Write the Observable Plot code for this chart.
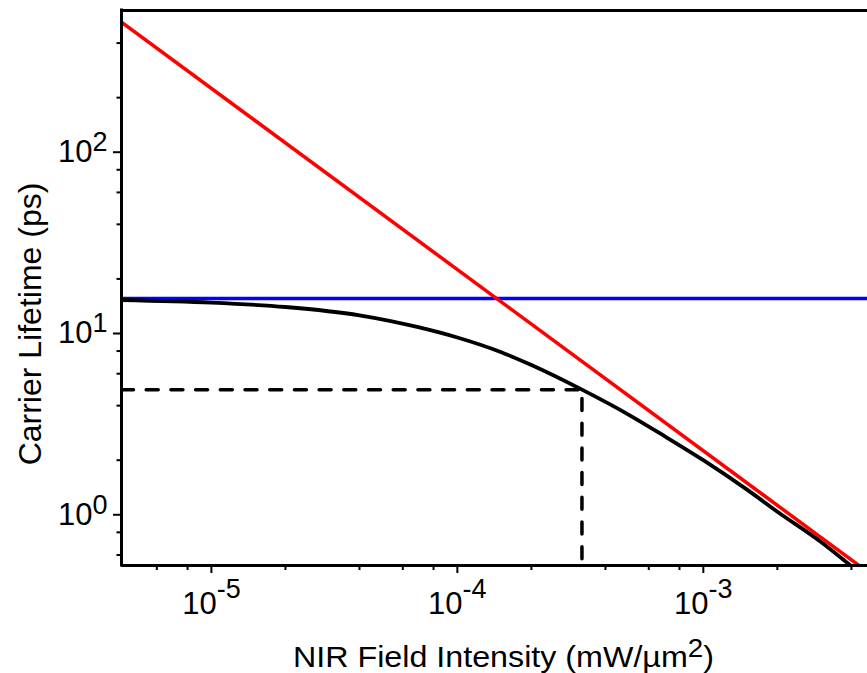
<!DOCTYPE html>
<html><head><meta charset="utf-8">
<script src="https://cdn.jsdelivr.net/npm/d3@7"></script>
<script src="https://cdn.jsdelivr.net/npm/@observablehq/plot@0.6"></script>
<style>body{margin:0;background:#fff} #chart{width:867px;height:673px}</style>
</head><body><div id="chart"></div>
<script>
// ---- data ----
const xDomain = [4.31e-6, 4.65e-3];
const yDomain = [0.525, 605];
const xMajor = [1e-5, 1e-4, 1e-3];
const xMinor = [6e-6, 8e-6, 2e-5, 4e-5, 6e-5, 8e-5, 2e-4, 4e-4, 6e-4, 8e-4, 2e-3, 4e-3];
const yMajor = [1, 10, 100];
const yMinor = [0.6, 0.8, 2, 4, 6, 8, 20, 40, 60, 80, 200, 400];

const redX = [4.31e-6, 4.32e-3];
const redY = [522, 0.522];
const blueX = [4.31e-6, 4.65e-3];
const blueY = [15.6, 15.6];
const blackX = [4.31e-6, 1e-5, 2e-5, 4e-5, 7e-5, 1e-4, 1.5e-4, 2e-4, 3.21e-4, 5e-4, 7e-4, 1e-3, 1.5e-3, 2e-3, 3e-3, 4.0e-3];
const blackY = [15.3, 14.8, 14.0, 12.6, 10.8, 9.5, 7.9, 6.7, 4.9, 3.55, 2.7, 2.0, 1.38, 1.04, 0.71, 0.52];
const dashX = [4.31e-6, 3.21e-4, 3.21e-4];
const dashY = [4.9, 4.9, 0.525];

const xLabel = "NIR Field Intensity (mW/µm^{2})";
const yLabel = "Carrier Lifetime (ps)";

// ---- tables ----
const toPts = (xs, ys) => xs.map((x, i) => ({x, y: ys[i]}));
const red = toPts(redX, redY);
const blue = toPts(blueX, blueY);
const black = toPts(blackX, blackY);
const dash = toPts(dashX, dashY);

const fmt = d => "10^{" + Math.round(Math.log10(d)) + "}";
const font = "'Liberation Sans', Arial, Helvetica, sans-serif";

const chart = Plot.plot({
  width: 867, height: 673,
  marginLeft: 121, marginRight: 0, marginTop: 10, marginBottom: 108,
  x: {type: "log", domain: xDomain},
  y: {type: "log", domain: yDomain},
  style: {fontFamily: font, background: "#fff", color: "#000", overflow: "visible"},
  marks: [
    Plot.line(blue, {x: "x", y: "y", stroke: "#0000ff", strokeWidth: 3.5, clip: true}),
    Plot.line(red, {x: "x", y: "y", stroke: "#ff0000", strokeWidth: 3.5, clip: true}),
    Plot.line(black, {x: "x", y: "y", stroke: "#000", strokeWidth: 3.8, curve: "monotone-x", clip: true}),
    Plot.line(dash, {x: "x", y: "y", stroke: "#000", strokeWidth: 3.5, strokeDasharray: "12,12.7", clip: true}),
    Plot.axisX(xMinor, {tickSize: 5, tickFormat: () => "", strokeWidth: 2, label: null}),
    Plot.axisX(xMajor, {tickSize: 8, tickPadding: 18.5, tickFormat: fmt, fontSize: 31, strokeWidth: 2, label: null}),
    Plot.axisY(yMinor, {tickSize: 4.5, tickFormat: () => "", strokeWidth: 2, label: null}),
    Plot.axisY(yMajor, {tickSize: 8, tickPadding: 6, tickFormat: fmt, fontSize: 31, strokeWidth: 2, label: null}),
    Plot.ruleY([yDomain[0]], {stroke: "#000", strokeWidth: 3}),
    Plot.ruleY([yDomain[1]], {stroke: "#000", strokeWidth: 3}),
    Plot.ruleX([xDomain[0]], {stroke: "#000", strokeWidth: 3, strokeLinecap: "square"}),
    Plot.text([xLabel], {frameAnchor: "bottom", dx: 9, dy: 101, fontSize: 29, lineAnchor: "bottom", textAnchor: "middle"}),
    Plot.text([yLabel], {frameAnchor: "left", rotate: -90, dx: -81, dy: 36, fontSize: 32, lineAnchor: "bottom", textAnchor: "middle"})
  ]
});
document.getElementById("chart").appendChild(chart);

// superscripts as real text (tspans)
const ns = "http://www.w3.org/2000/svg";
chart.querySelectorAll("text").forEach(t => {
  const s = t.textContent;
  const m = s.match(/^(.*?)\^\{(.*?)\}(.*)$/);
  if (!m) return;
  let g = t.parentNode, isY = false, isLabel = !/tick/.test((g.getAttribute && g.getAttribute("aria-label")) || "");
  while (g && g !== chart) {
    const a = g.getAttribute && g.getAttribute("aria-label");
    if (a && /y-axis/.test(a)) isY = true;
    g = g.parentNode;
  }
  const supDy = isLabel ? -10 : (isY ? -11 : -16);
  const supSize = isLabel ? 25 : 27;
  t.textContent = "";
  const a = document.createElementNS(ns, "tspan"); a.textContent = m[1]; t.appendChild(a);
  const b = document.createElementNS(ns, "tspan"); b.setAttribute("dy", supDy); b.setAttribute("font-size", supSize); b.textContent = m[2]; t.appendChild(b);
  if (m[3]) { const c = document.createElementNS(ns, "tspan"); c.setAttribute("dy", -supDy); c.textContent = m[3]; t.appendChild(c); }
  if (isLabel && m[3]) { t.setAttribute("textLength", 421); t.setAttribute("lengthAdjust", "spacingAndGlyphs"); }
});
</script>
</body></html>
